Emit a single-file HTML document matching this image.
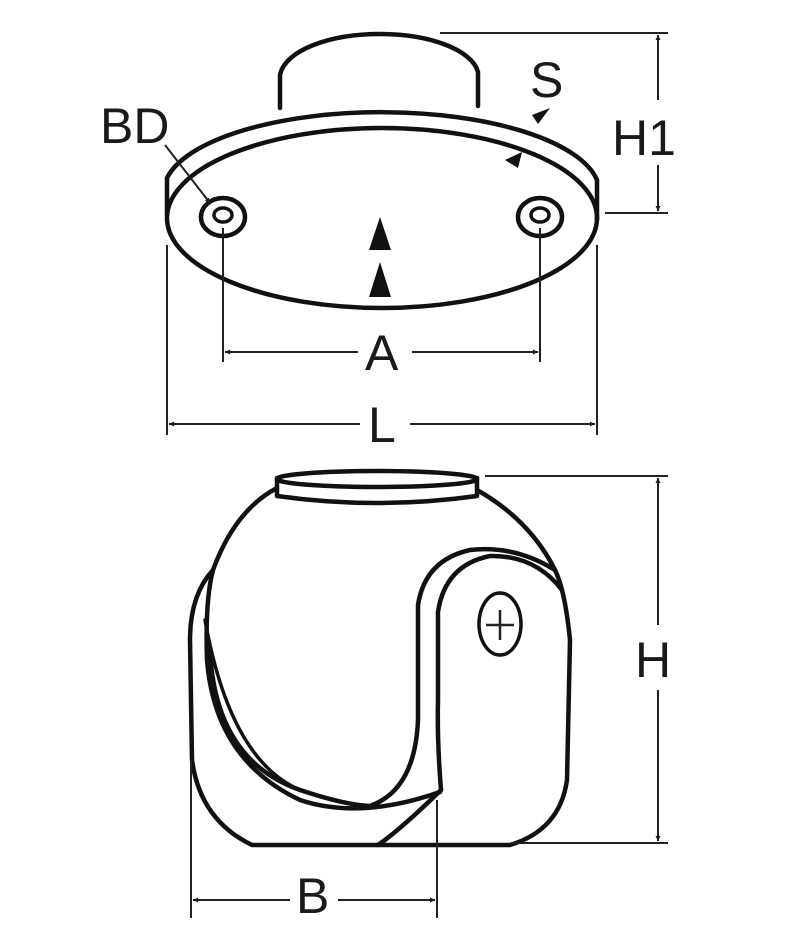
<!DOCTYPE html>
<html><head><meta charset="utf-8"><style>html,body{margin:0;padding:0;background:#fff}svg{display:block}</style></head><body>
<svg width="800" height="939" viewBox="0 0 800 939" xmlns="http://www.w3.org/2000/svg">
<defs>
<marker id="ar" viewBox="0 0 10 10" refX="10" refY="5" markerWidth="7" markerHeight="5" orient="auto-start-reverse" markerUnits="userSpaceOnUse">
<path d="M0,0 L10,5 L0,10z" fill="#1a1a1a"/></marker>
</defs>
<style>
.o{fill:none;stroke:#111;stroke-width:4.5;stroke-linejoin:round;stroke-linecap:round}
.d{fill:none;stroke:#222;stroke-width:2}
text{font-family:"Liberation Sans",sans-serif;font-size:50px;fill:#1a1a1a}
</style>
<!-- TOP VIEW -->
<path class="o" d="M280,108 L280,75 C285,50 330,34 380,34 C430,34 472,50 478,72 L478,106"/>
<path class="o" d="M167,215 L167,178 A218,80 0 0 1 597,180 L597,220"/>
<ellipse class="o" cx="382" cy="218" rx="215" ry="90" fill="#fff"/>
<ellipse class="o" cx="223" cy="217" rx="22" ry="19"/>
<ellipse class="o" cx="223" cy="215" rx="9" ry="7" style="stroke-width:3.5"/>
<ellipse class="o" cx="540" cy="217" rx="22" ry="19"/>
<ellipse class="o" cx="540" cy="215" rx="9" ry="7" style="stroke-width:3.5"/>
<path d="M380,217 L369,250 L391,250z" fill="#111"/>
<path d="M380,262 L369,297 L391,297z" fill="#111"/>
<path d="M532,115 L550,108 L538,124z" fill="#111"/>
<path d="M522,152 L505,160 L518,168z" fill="#111"/>
<line class="d" x1="165" y1="145" x2="210" y2="203" marker-end="url(#ar)"/>
<text x="100" y="143">BD</text>
<text x="530" y="97">S</text>
<!-- H1 -->
<line class="d" x1="440" y1="33" x2="668" y2="33"/>
<line class="d" x1="605" y1="213" x2="668" y2="213"/>
<line class="d" x1="658" y1="35" x2="658" y2="100" marker-start="url(#ar)"/>
<line class="d" x1="658" y1="165" x2="658" y2="211" marker-end="url(#ar)"/>
<text x="612" y="155">H1</text>
<!-- A -->
<line class="d" x1="223" y1="228" x2="223" y2="362"/>
<line class="d" x1="540" y1="228" x2="540" y2="362"/>
<line class="d" x1="225" y1="352" x2="358" y2="352" marker-start="url(#ar)"/>
<line class="d" x1="412" y1="352" x2="538" y2="352" marker-end="url(#ar)"/>
<text x="365" y="370">A</text>
<!-- L -->
<line class="d" x1="167" y1="245" x2="167" y2="435"/>
<line class="d" x1="597" y1="245" x2="597" y2="435"/>
<line class="d" x1="169" y1="424" x2="360" y2="424" marker-start="url(#ar)"/>
<line class="d" x1="410" y1="424" x2="595" y2="424" marker-end="url(#ar)"/>
<text x="368" y="442">L</text>
<!-- BOTTOM VIEW -->
<path class="o" d="M277,488 Q235,510 213,570 Q190,595 190,640 L192,760 Q200,820 252,845 L510,845 Q560,830 567,780 L570,640 Q565,590 555,570 Q530,520 477,490"/>
<path class="o" d="M213,570 Q205,600 207,660 Q215,760 300,800 Q360,820 440,792"/>
<path class="o" d="M210,650 Q215,760 300,790 Q345,805 370,806 Q415,790 418,720 L418,605 Q425,560 470,550 Q515,545 555,570"/>
<path class="o" d="M441,790 Q437,740 438,700 L438,612 Q445,565 490,556 Q535,555 562,590"/>
<path class="o" d="M205,620 Q230,760 300,790" style="stroke-width:3.5"/>
<path class="o" d="M378,845 Q400,830 441,790"/>
<path class="o" d="M277,478 L277,496 Q377,510 477,496 L477,478" fill="#fff"/>
<ellipse class="o" cx="377" cy="479" rx="100" ry="8" fill="#fff"/>
<ellipse class="o" cx="500" cy="624" rx="21" ry="31" style="stroke-width:3.5"/>
<line class="d" x1="500" y1="610" x2="500" y2="640" style="stroke-width:2.5"/>
<line class="d" x1="486" y1="625" x2="514" y2="625" style="stroke-width:2.5"/>
<!-- H -->
<line class="d" x1="485" y1="476" x2="668" y2="476"/>
<line class="d" x1="512" y1="843" x2="668" y2="843"/>
<line class="d" x1="658" y1="478" x2="658" y2="625" marker-start="url(#ar)"/>
<line class="d" x1="658" y1="690" x2="658" y2="841" marker-end="url(#ar)"/>
<text x="635" y="677">H</text>
<!-- B -->
<line class="d" x1="191" y1="760" x2="191" y2="918"/>
<line class="d" x1="437" y1="800" x2="437" y2="918"/>
<line class="d" x1="193" y1="900" x2="290" y2="900" marker-start="url(#ar)"/>
<line class="d" x1="338" y1="900" x2="435" y2="900" marker-end="url(#ar)"/>
<text x="296" y="913">B</text>
</svg>
</body></html>
